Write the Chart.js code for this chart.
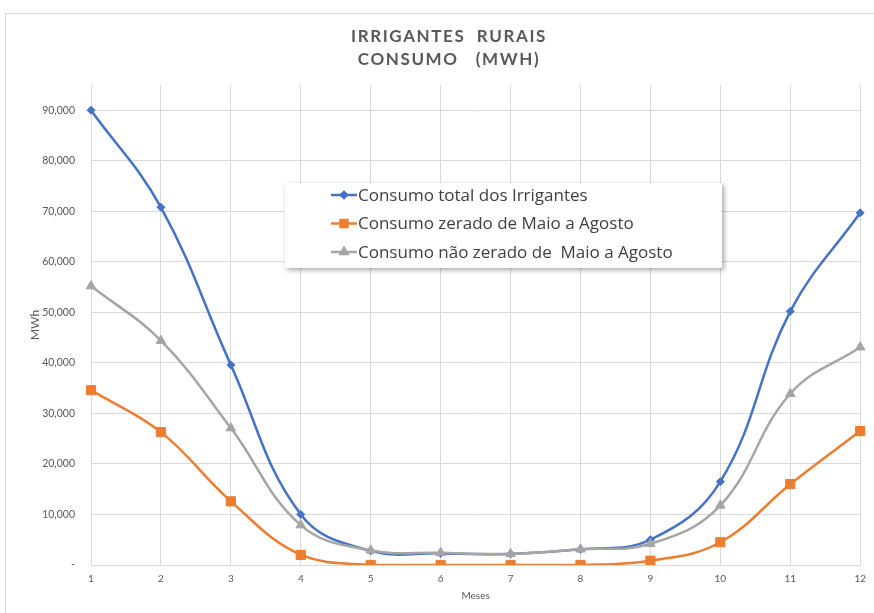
<!DOCTYPE html>
<html lang="pt">
<head>
<meta charset="UTF-8">
<title>Irrigantes Rurais - Consumo (MWh)</title>
<script src="https://cdn.jsdelivr.net/npm/chart.js"></script>
<style>
  html, body { margin: 0; padding: 0; background: #fff; }
  .frame { position: absolute; left: 5px; top: 13px; width: 900px; height: 620px; border: 1px solid #d9d9d9; }
  .wrap { position: absolute; left: 0; top: 0; width: 874px; height: 613px; }
</style>
</head>
<body>
<div class="frame"></div>
<div class="wrap"><canvas id="chart" width="874" height="613"></canvas></div>
<script>
// meses 1..12
var meses = ['1', '2', '3', '4', '5', '6', '7', '8', '9', '10', '11', '12'];
var consumoTotal = [90000, 70800, 39600, 10000, 2800, 2300, 2200, 3100, 5000, 16500, 50200, 69700];
var consumoZerado = [34600, 26300, 12600, 2000, 0, 0, 0, 0, 850, 4500, 16000, 26500];
var consumoNaoZerado = [55200, 44400, 27100, 7900, 2900, 2400, 2200, 3100, 4200, 11800, 33900, 43100];
var nomes = ['Consumo total dos Irrigantes', 'Consumo zerado de Maio a Agosto', 'Consumo não zerado de  Maio a Agosto'];
var titulo = ['IRRIGANTES  RURAIS', 'CONSUMO   (MWH)'];
var ticksY = [0, 10000, 20000, 30000, 40000, 50000, 60000, 70000, 80000, 90000];

var cinza = '#595959';
var grade = '#d9d9d9';

// título com espaçamento entre letras
var tituloPlugin = {
  id: 'tituloEspacado',
  afterDraw: function (chart) {
    var ctx = chart.ctx;
    ctx.save();
    ctx.font = 'bold 17px Lato, "Open Sans", sans-serif';
    ctx.fillStyle = cinza;
    ctx.textAlign = 'center';
    ctx.textBaseline = 'middle';
    if ('letterSpacing' in ctx) ctx.letterSpacing = '1.6px';
    ctx.fillText(titulo[0], 449, 37);
    ctx.fillText(titulo[1], 449, 60);
    ctx.restore();
  }
};

// legenda em caixa com sombra, dentro da área do gráfico
var legendaPlugin = {
  id: 'legendaCaixa',
  afterDatasetsDraw: function (chart) {
    var ctx = chart.ctx;
    var box = { x: 285, y: 183, w: 437, h: 85 };
    ctx.save();
    ctx.shadowColor = 'rgba(0,0,0,0.35)';
    ctx.shadowBlur = 5;
    ctx.shadowOffsetX = 2;
    ctx.shadowOffsetY = 2;
    ctx.fillStyle = '#fff';
    ctx.fillRect(box.x, box.y, box.w, box.h);
    ctx.restore();

    ctx.save();
    ctx.font = '17px "Open Sans", Lato, sans-serif';
    ctx.textBaseline = 'middle';
    chart.data.datasets.forEach(function (ds, i) {
      var y = 195 + i * 28.5;
      ctx.strokeStyle = ds.borderColor;
      ctx.lineWidth = 2.5;
      ctx.beginPath();
      ctx.moveTo(331, y);
      ctx.lineTo(357, y);
      ctx.stroke();
      Chart.helpers.drawPoint(ctx, {
        pointStyle: ds.pointStyle,
        radius: ds.pointRadius * 0.75,
        borderWidth: 1
      }, 344, y);
      ctx.fillStyle = ds.borderColor;
      ctx.fill();
      ctx.fillStyle = '#404040';
      ctx.fillText(ds.label, 358, y + 1);
    });
    ctx.restore();
  }
};

function serie(label, data, cor, estilo, raio, ordem) {
  return {
    label: label,
    data: data,
    borderColor: cor,
    backgroundColor: cor,
    pointBackgroundColor: cor,
    pointBorderColor: cor,
    borderWidth: 2.5,
    pointStyle: estilo,
    pointRadius: raio,
    pointBorderWidth: 1,
    tension: 0.4,
    order: ordem
  };
}

new Chart(document.getElementById('chart'), {
  type: 'line',
  data: {
    labels: meses,
    datasets: [
      serie(nomes[0], consumoTotal, '#4472C4', 'rectRot', 4, 3),
      serie(nomes[1], consumoZerado, '#ED7D31', 'rect', 6.5, 2),
      serie(nomes[2], consumoNaoZerado, '#A5A5A5', 'triangle', 5.5, 1)
    ]
  },
  options: {
    responsive: false,
    animation: false,
    layout: { padding: { top: 85, right: 8, left: 0, bottom: 0 } },
    plugins: {
      legend: { display: false },
      title: { display: false },
      tooltip: { enabled: false }
    },
    scales: {
      x: {
        offset: false,
        grid: { color: grade, lineWidth: 1, drawTicks: false },
        border: { color: grade },
        ticks: { color: cinza, font: { family: 'Lato, sans-serif', size: 10 }, padding: 8, maxRotation: 0 },
        title: { display: true, text: 'Meses', color: cinza, font: { family: 'Lato, sans-serif', size: 10 }, padding: { top: 4, bottom: 11 } },
        afterFit: function (scale) { scale.height = 48; }
      },
      y: {
        min: 0,
        max: 95000,
        grid: { color: grade, lineWidth: 1, drawTicks: false },
        border: { display: false },
        ticks: {
          color: cinza,
          font: { family: 'Lato, sans-serif', size: 10.5 },
          padding: 16,
          callback: function (v) { return v === 0 ? '-' : v.toLocaleString('en-US'); }
        },
        afterBuildTicks: function (scale) {
          scale.ticks = ticksY.map(function (v) { return { value: v }; });
        },
        title: { display: true, text: 'MWh', color: cinza, font: { family: 'Lato, sans-serif', size: 12 }, padding: { top: 28, bottom: 0 } },
        afterFit: function (scale) { scale.width = 91; }
      }
    }
  },
  plugins: [tituloPlugin, legendaPlugin]
});
</script>
</body>
</html>
